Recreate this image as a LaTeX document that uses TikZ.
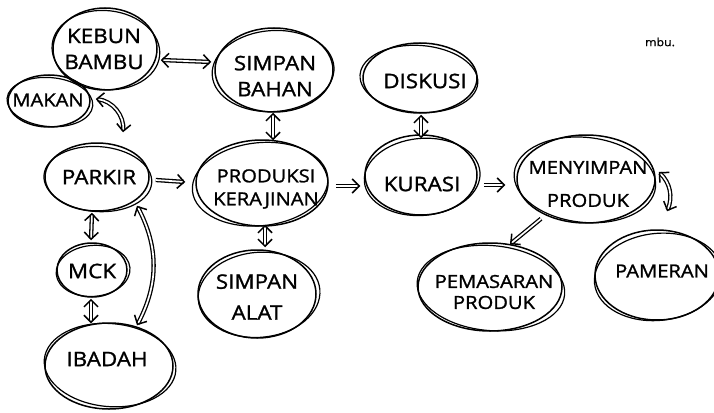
\documentclass[tikz,border=0pt]{standalone}
\usepackage{fontspec}
\setmainfont{Open Sans}
\newfontfamily\hand{Open Sans}[FakeBold=1.3,FakeStretch=1.12]
\usetikzlibrary{shapes.geometric,arrows.meta,calc}
\begin{document}
\begin{tikzpicture}[x=1pt,y=-1pt,
  ink/.style={line width=1.5pt, black},
  bub/.style={ellipse, draw, ink, inner sep=0pt},
  rim/.style={ink, line width=1.2pt},
  lbl/.style={inner sep=0pt, align=center, font=\hand\fontsize{20}{26}\selectfont},
  link/.style={line width=1.3pt, double, double distance=1.7pt},
  barb/.tip={Straight Barb[length=7pt,width=14pt,line width=1.5pt]},
  both/.style={link, {barb}-{barb}},
  one/.style={link, -{barb}},
]
\clip (0,0) rectangle (714,412);
\useasboundingbox (0,0) rectangle (714,412);

% bubble: name, x, y, rx, ry, rotation of second stroke, offset of second stroke
\newcommand\bubble[7]{%
  \node[bub, minimum width={2*#4pt}, minimum height={2*#5pt}] (#1) at (#2,#3) {};
  \draw[rim, rotate around={#6:(#1.center)}] ($(#1.center)+(#7)$)
    ellipse [x radius={#4pt+2pt}, y radius={#5pt-1.5pt}];
}

\bubble{kebun}{105}{49}{52}{41}{-6}{1,1}
\bubble{bahan}{274}{70}{59}{42}{4}{-1,1}
\bubble{makan}{49}{101}{41}{26}{-5}{1,1}
\bubble{parkir}{97}{177}{52}{34}{-4}{1,2}
\bubble{produksi}{262}{183}{66}{43}{6}{-2,1}
\bubble{mck}{92}{270}{35}{27}{5}{1,1}
\bubble{ibadah}{109}{366}{64}{43}{-5}{1,-1}
\bubble{alat}{257}{294}{59}{44}{5}{2,1}
\bubble{diskusi}{420}{78}{57}{35}{-4}{-1,1}
\bubble{kurasi}{421}{175}{56}{40}{5}{1,2}
\bubble{menyimpan}{586}{179}{69}{44}{-6}{-1,1}
\bubble{pemasaran}{490}{287}{72}{44}{-5}{1,1}
\bubble{pameran}{657}{275}{62}{45}{6}{1,2}

% labels
\node[lbl] (kebun-t) at (104,49) {KEBUN\\BAMBU};
\node[lbl] (bahan-t) at (275,76) {SIMPAN\\BAHAN};
\node[lbl, font=\hand\fontsize{18}{22}\selectfont] (makan-t) at (48,100) {MAKAN};
\node[lbl] (parkir-t) at (99,177) {PARKIR};
\node[lbl, font=\hand\fontsize{18}{23}\selectfont] (produksi-t) at (266,189) {PRODUKSI\\KERAJINAN};
\node[lbl] (mck-t) at (92,271) {MCK};
\node[lbl] (ibadah-t) at (107,359) {IBADAH};
\node[lbl, font=\hand\fontsize{20}{31}\selectfont] (alat-t) at (257,297) {SIMPAN\\ALAT};
\node[lbl] (diskusi-t) at (425,81) {DISKUSI};
\node[lbl] (kurasi-t) at (422,184) {KURASI};
\node[lbl, font=\hand\fontsize{18}{33}\selectfont] (menyimpan-t) at (588,184) {MENYIMPAN\\PRODUK};
\node[lbl, font=\hand\fontsize{18}{21}\selectfont] (pemasaran-t) at (494,292) {PEMASARAN\\PRODUK};
\node[lbl, font=\hand\fontsize{18}{22}\selectfont] (pameran-t) at (662,271) {PAMERAN};
\node[inner sep=0pt, font=\hand\fontsize{11}{13}\selectfont] (sign) at (660,42) {mbu.};

% connectors
\draw[both] ($(kebun.east)+(3,11)$) -- ($(bahan.west)+(-3,-8)$);
\draw[both] ($(makan.east)+(5,-2)$) to[bend left=45] ($(parkir.north)+(26,-10)$);
\draw[both] ($(bahan.south)+(-1,0)$) -- ($(produksi.north)+(11,1)$);
\draw[one] ($(parkir.east)+(6,3)$) -- ($(produksi.west)+(-10,-1)$);
\draw[one] ($(produksi.east)+(7,3)$) -- ($(kurasi.west)+(-4,11)$);
\draw[one] ($(kurasi.east)+(6,10)$) -- ($(menyimpan.west)+(-11,6)$);
\draw[both] ($(diskusi.south)+(1,1)$) -- ($(kurasi.north)+(0,4)$);
\draw[both] ($(parkir.south)+(-5,1)$) -- ($(mck.north)+(-1,-2)$);
\draw[both] ($(mck.south)+(-1,1)$) -- ($(ibadah.north)+(-18,1)$);
\draw[both] ($(parkir.south)+(40,-6)$) to[bend left=28] ($(ibadah.north)+(28,3)$);
\draw[both] ($(produksi.south)+(3,-2)$) -- ($(alat.north)+(8,-2)$);
\draw[one] ($(menyimpan.south)+(-45,-5)$) -- ($(pemasaran.north)+(20,2)$);
\draw[both] ($(menyimpan.east)+(3,-7)$) to[bend left=35] ($(pameran.north)+(10,-18)$);
\end{tikzpicture}
\end{document}
